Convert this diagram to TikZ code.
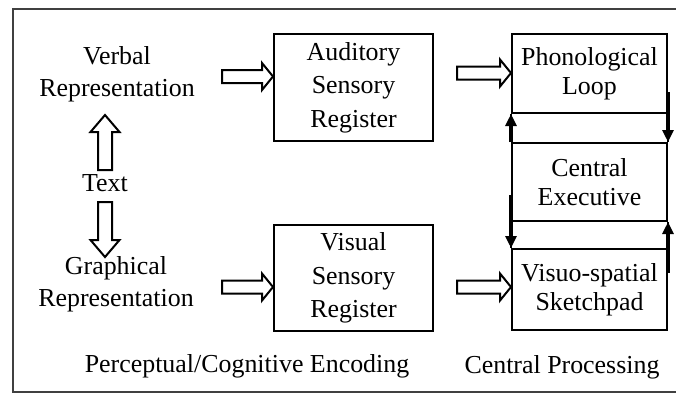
\documentclass[tikz,border=0pt]{standalone}
\usepackage{fontspec}
\setmainfont{Liberation Serif}
\usetikzlibrary{arrows.meta}

\tikzset{
  lbl/.style={font=\fontsize{26}{32}\selectfont, align=center, inner sep=0pt},
  regbox/.style={draw, line width=2bp, align=center, inner sep=0pt,
    minimum width=159bp, font=\fontsize{26}{33.5}\selectfont},
  wmbox/.style={draw, line width=2bp, align=center, inner sep=0pt,
    minimum width=155bp, font=\fontsize{26}{29}\selectfont},
  edge/.style={line width=2bp},
  flow/.style={line width=3.4bp, -{Triangle[length=12bp,width=11bp]}},
  hollow/.style={draw, line width=2bp, fill=white, line join=miter},
  frame/.style={draw=black!75, line width=2.8bp},
  % block arrow with its tip at the origin, pointing along +x:
  % #1 total length, #2 head length, #3 shaft half width, #4 head half width
  pics/blockarrow/.style n args={4}{code={
    \path[hollow] (0,0) -- (-#2,#4) -- (-#2,#3) -- (-#1,#3) -- (-#1,-#3)
      -- (-#2,-#3) -- (-#2,-#4) -- cycle;
  }}
}

\begin{document}
\begin{tikzpicture}[x=1bp, y=-1bp]
  \useasboundingbox (0,0) rectangle (676,397);

  % outer frame (open on the right)
  \draw[frame] (680,9) -- (13,9) -- (13,392) -- (680,392);

  % input representations
  \node[lbl] (verbal) at (117,74) {Verbal\\Representation};
  \node[lbl] (txt) at (105,183.4) {Text};
  \node[lbl] (graph) at (116,284) {Graphical\\Representation};

  % sensory registers
  \node[regbox, minimum height=107bp] (aud) at (353.5,87.5) {Auditory\\Sensory\\Register};
  \node[regbox, minimum height=106bp] (visreg) at (353.5,278) {Visual\\Sensory\\Register};

  % working memory column
  \node[wmbox, minimum height=79bp] (phon) at (589.5,73.5) {Phonological\\Loop};
  \node[wmbox, minimum height=78bp] (exec) at (589.5,182) {Central\\Executive};
  \node[wmbox, minimum height=81bp] (vis) at (589.5,289.5) {Visuo-spatial\\Sketchpad};

  % column sides between the boxes
  \draw[edge] (phon.south west) -- (exec.north west);
  \draw[edge] (phon.south east) -- (exec.north east);
  \draw[edge] (exec.south west) -- (vis.north west);
  \draw[edge] (exec.south east) -- (vis.north east);

  % exchanges with the central executive
  \draw[flow] (exec.north west) -- (phon.south west);
  \draw[flow] (phon.east |- 0,92) -- (exec.north east);
  \draw[flow] (exec.west |- 0,195) -- (vis.north west);
  \draw[flow] (vis.east |- 0,273) -- (exec.south east);

  % hollow block arrows
  \pic[rotate=90] at (txt.center |- 0,115) {blockarrow={55}{17}{7}{14.5}};
  \pic[rotate=-90] at (txt.center |- 0,257) {blockarrow={55}{17}{7}{14.5}};
  \pic at (aud.west |- 0,76.5) {blockarrow={51}{11}{6.5}{13.5}};
  \pic at (phon.west |- 0,73) {blockarrow={54}{11}{6.5}{13.5}};
  \pic at (visreg.west |- 0,287) {blockarrow={51}{11}{6.5}{13.5}};
  \pic at (vis.west |- 0,287) {blockarrow={54}{11}{6.5}{13.5}};

  % stage captions
  \node[lbl] (enc) at (247,366) {Perceptual/Cognitive Encoding};
  \node[lbl] (proc) at (562,367) {Central Processing};
\end{tikzpicture}
\end{document}
